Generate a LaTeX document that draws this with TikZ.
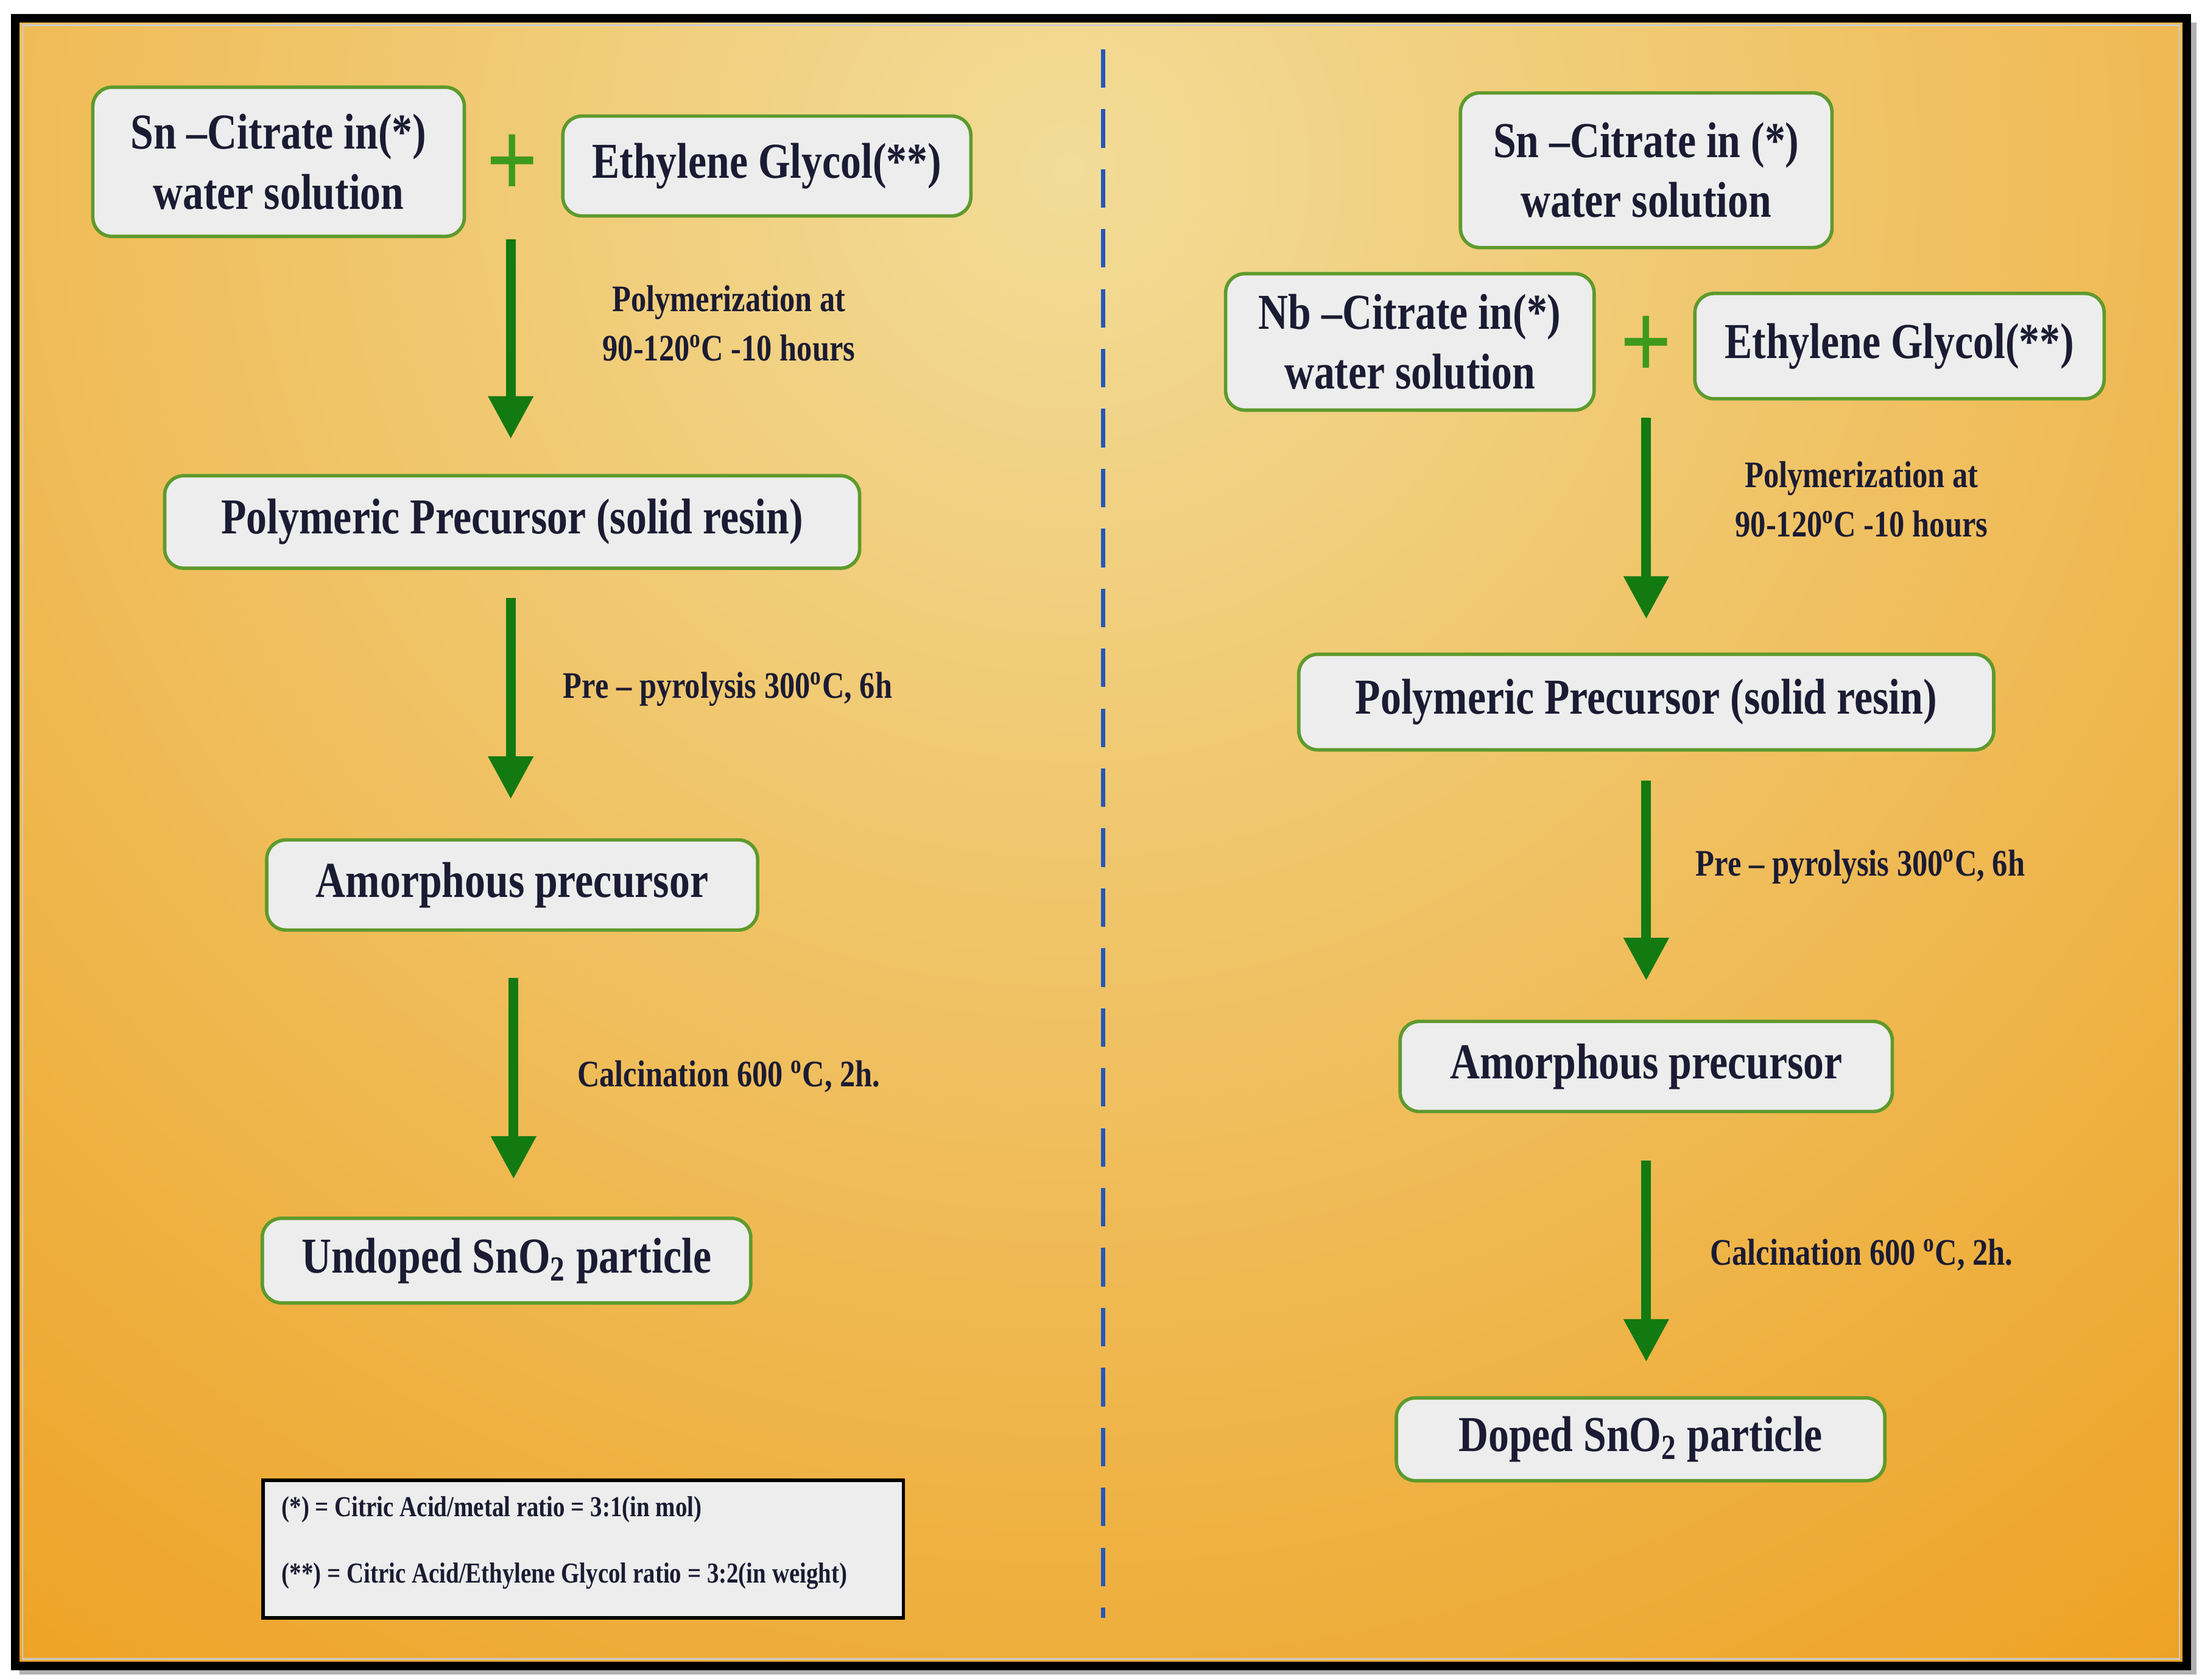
\documentclass[tikz,border=0pt]{standalone}
\usepackage{fontspec}
\setmainfont{Liberation Serif}[FakeStretch=0.82]
\usetikzlibrary{arrows.meta}
\definecolor{txt}{HTML}{1B1B33}
\definecolor{agreen}{HTML}{137A12}
\definecolor{bgreen}{HTML}{5E9A2C}
\definecolor{pgreen}{HTML}{3E9A1C}
\definecolor{bgin}{HTML}{F2DC98}
\definecolor{bgout}{HTML}{EC9000}
\definecolor{boxfill}{HTML}{EDEDED}
\definecolor{dashblue}{HTML}{2458B8}
\tikzset{
  stepbox/.style={draw=bgreen, line width=1.6pt, fill=boxfill, rounded corners=9pt,
    text=txt, font=\bfseries\fontsize{23.5}{28}\selectfont, align=center, inner sep=0pt},
  flow/.style={draw=agreen, line width=4.6pt, -{Triangle[width=20pt,length=20pt]}},
  lab/.style={text=txt, font=\bfseries\fontsize{17.5}{23}\selectfont, align=center, inner sep=0pt},
  plus/.style={text=pgreen, font=\bfseries\fontsize{52}{52}\selectfont, inner sep=0pt},
  legtxt/.style={text=txt, font=\bfseries\fontsize{13.5}{15}\selectfont, anchor=west, inner sep=0pt},
}
\begin{document}
\begin{tikzpicture}[x=0.0231cm,y=-0.0231cm]
\useasboundingbox (0,0) rectangle (1565,1194);
\fill[white] (0,0) rectangle (1565,1194);
\fill[gray!60] (14,16) rectangle (1561,1190);
\begin{scope}
\clip (12,14) rectangle (1553,1183);
\fill[bgout] (12,14) rectangle (1553,1183);
\shade[inner color=bgin, outer color=bgout] (760,120) circle (40cm);
\end{scope}
\draw[black, line width=4pt] (11,13) rectangle (1554,1184);
\draw[gray!40, line width=0.8pt] (16,18) rectangle (1549,1179);
% divider
\draw[dashblue, line width=2pt, dash pattern=on 18pt off 10pt] (784,35) -- (784,1150);
% ---------- left
\node[stepbox, minimum width=6.10cm, minimum height=2.45cm] (a1) at (198,115) {Sn --Citrate in(*)\\water solution};
\node[plus] (ap) at (364,118) {+};
\node[stepbox, minimum width=6.70cm, minimum height=1.64cm] (a2) at (545,118) {Ethylene Glycol(**)};
\node[stepbox, minimum width=11.41cm, minimum height=1.52cm] (a3) at (364,371) {Polymeric Precursor (solid resin)};
\node[stepbox, minimum width=8.06cm, minimum height=1.48cm] (a4) at (364,629) {Amorphous precursor};
\node[stepbox, minimum width=8.02cm, minimum height=1.39cm] (a5) at (360,896) {Undoped SnO\textsubscript{2} particle};
\draw[flow] (363,170) -- (363,312);
\draw[flow] (363,425) -- (363,568);
\draw[flow] (365,695) -- (365,838);
\node[lab] (l1) at (518,230) {Polymerization at\\90-120\textsuperscript{o}C -10 hours};
\node[lab, anchor=west] (l2) at (400,490) {Pre -- pyrolysis 300\textsuperscript{o}C, 6h};
\node[lab, anchor=west] (l3) at (410,765) {Calcination 600 \textsuperscript{o}C, 2h.};
% legend
\node[draw=black, line width=1.6pt, fill=boxfill, minimum width=10.51cm, minimum height=2.26cm, inner sep=0pt] (leg) at (414.5,1101) {};
\node[legtxt] (g1) at (200,1073) {(*) = Citric Acid/metal ratio = 3:1(in mol)};
\node[legtxt] (g2) at (200,1120) {(**) = Citric Acid/Ethylene Glycol ratio = 3:2(in weight)};
% ---------- right
\node[stepbox, minimum width=6.10cm, minimum height=2.54cm] (b0) at (1170,121) {Sn --Citrate in (*)\\water solution};
\node[stepbox, minimum width=6.05cm, minimum height=2.24cm] (b1) at (1002,243) {Nb --Citrate in(*)\\water solution};
\node[plus] (bp) at (1170,247) {+};
\node[stepbox, minimum width=6.72cm, minimum height=1.73cm] (b2) at (1350,246) {Ethylene Glycol(**)};
\node[stepbox, minimum width=11.41cm, minimum height=1.57cm] (b3) at (1170,499) {Polymeric Precursor (solid resin)};
\node[stepbox, minimum width=8.08cm, minimum height=1.48cm] (b4) at (1170,758) {Amorphous precursor};
\node[stepbox, minimum width=8.02cm, minimum height=1.36cm] (b5) at (1166,1023) {Doped SnO\textsubscript{2} particle};
\draw[flow] (1170,297) -- (1170,440);
\draw[flow] (1170,555) -- (1170,697);
\draw[flow] (1170,825) -- (1170,968);
\node[lab] (m1) at (1323,355) {Polymerization at\\90-120\textsuperscript{o}C -10 hours};
\node[lab, anchor=west] (m2) at (1205,616) {Pre -- pyrolysis 300\textsuperscript{o}C, 6h};
\node[lab, anchor=west] (m3) at (1215,892) {Calcination 600 \textsuperscript{o}C, 2h.};
\end{tikzpicture}
\end{document}
